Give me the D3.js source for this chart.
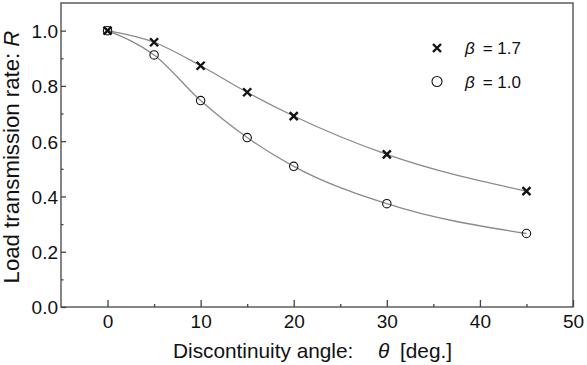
<!DOCTYPE html>
<html><head><meta charset="utf-8">
<script src="https://cdn.jsdelivr.net/npm/d3@7"></script>
<style>body{margin:0;background:#fff}svg{display:block}text{font-family:"Liberation Sans",Arial,sans-serif}</style>
</head><body><svg id="c" width="587" height="365"></svg>
<script>
const angles = [0, 5, 10, 15, 20, 30, 45];
const rBeta17 = [1.0, 0.958, 0.873, 0.777, 0.691, 0.552, 0.419];
const rBeta10 = [1.0, 0.912, 0.747, 0.613, 0.509, 0.374, 0.266];
const xTicks = [0, 10, 20, 30, 40, 50];
const yTicks = [0.0, 0.2, 0.4, 0.6, 0.8, 1.0];
const legendLabels = ["1.7", "1.0"];

const svg = d3.select("#c");
const L = 61, R = 573, T = 3, B = 307;
const x = d3.scaleLinear().domain([-5, 50]).range([L, R]);
const y = d3.scaleLinear().domain([0, 1.1]).range([B, T]);
const axisCol = "#444";

svg.append("rect").attr("x", L).attr("y", T).attr("width", R - L).attr("height", B - T)
  .attr("fill", "none").attr("stroke", axisCol).attr("stroke-width", 1.3);

const xg = svg.append("g").attr("transform", `translate(0,${B})`)
  .call(d3.axisBottom(x).tickValues(xTicks).tickSizeInner(-7).tickSizeOuter(0).tickFormat(d3.format("d")));
xg.select(".domain").remove();
xg.selectAll("line").attr("stroke", axisCol).attr("stroke-width", 1.3);
xg.selectAll("text").attr("font-size", 19).attr("fill", "#111").attr("dy", null).attr("y", 21);
const xm = svg.append("g").attr("transform", `translate(0,${B})`)
  .call(d3.axisBottom(x).tickValues([5, 15, 25, 35, 45]).tickSizeInner(-3).tickSizeOuter(0).tickFormat(""));
xm.select(".domain").remove();
xm.selectAll("line").attr("stroke", axisCol).attr("stroke-width", 1.3);

const yg = svg.append("g").attr("transform", `translate(${L},0)`)
  .call(d3.axisLeft(y).tickValues(yTicks).tickSizeInner(-5).tickSizeOuter(0).tickFormat(d3.format(".1f")));
yg.select(".domain").remove();
yg.selectAll("line").attr("stroke", axisCol).attr("stroke-width", 1.3);
yg.selectAll("text").attr("font-size", 19).attr("fill", "#111").attr("x", -3).attr("dy", "0.36em");
const ym = svg.append("g").attr("transform", `translate(${L},0)`)
  .call(d3.axisLeft(y).tickValues([0.1, 0.3, 0.5, 0.7, 0.9]).tickSizeInner(-2.5).tickSizeOuter(0).tickFormat(""));
ym.select(".domain").remove();
ym.selectAll("line").attr("stroke", axisCol).attr("stroke-width", 1.3);

const line = d3.line().x((d, i) => x(angles[i])).y(d => y(d)).curve(d3.curveMonotoneX);
[rBeta17, rBeta10].forEach(s => {
  svg.append("path").attr("d", line(s)).attr("fill", "none").attr("stroke", "#8a8a8a").attr("stroke-width", 1.3);
});

function cross(g, cx, cy) {
  const s = 4;
  g.append("path").attr("d", `M${cx - s},${cy - s}L${cx + s},${cy + s}M${cx - s},${cy + s}L${cx + s},${cy - s}`)
    .attr("stroke", "#111").attr("stroke-width", 2.4).attr("fill", "none");
}
function circ(g, cx, cy, r) {
  g.append("circle").attr("cx", cx).attr("cy", cy).attr("r", r).attr("fill", "none")
    .attr("stroke", "#111").attr("stroke-width", 1.1);
}
const mg = svg.append("g");
rBeta10.forEach((v, i) => circ(mg, x(angles[i]), y(v), 4.2));
rBeta17.forEach((v, i) => cross(mg, x(angles[i]), y(v)));

const lg = svg.append("g");
[0, 1].forEach(i => {
  const ly = 48 + i * 33.5;
  if (i === 0) cross(lg, 437, ly); else circ(lg, 437, ly, 5);
  const t = lg.append("text").attr("x", 465).attr("y", ly + 6).attr("font-size", 17).attr("fill", "#111");
  t.append("tspan").attr("font-style", "italic").text("β");
  t.append("tspan").attr("dx", 8).text("= " + legendLabels[i]);
});

const xt = svg.append("text").attr("x", 173).attr("y", 358)
  .attr("font-size", 20.8).attr("fill", "#111");
xt.append("tspan").text("Discontinuity angle:");
xt.append("tspan").attr("x", 378).attr("font-style", "italic").text("θ");
xt.append("tspan").attr("x", 400).text("[deg.]");

const yt = svg.append("text").attr("transform", "translate(19,157) rotate(-90)").attr("text-anchor", "middle")
  .attr("font-size", 22.2).attr("fill", "#111");
yt.append("tspan").text("Load transmission rate: ");
yt.append("tspan").attr("font-style", "italic").text("R");
</script></body></html>
